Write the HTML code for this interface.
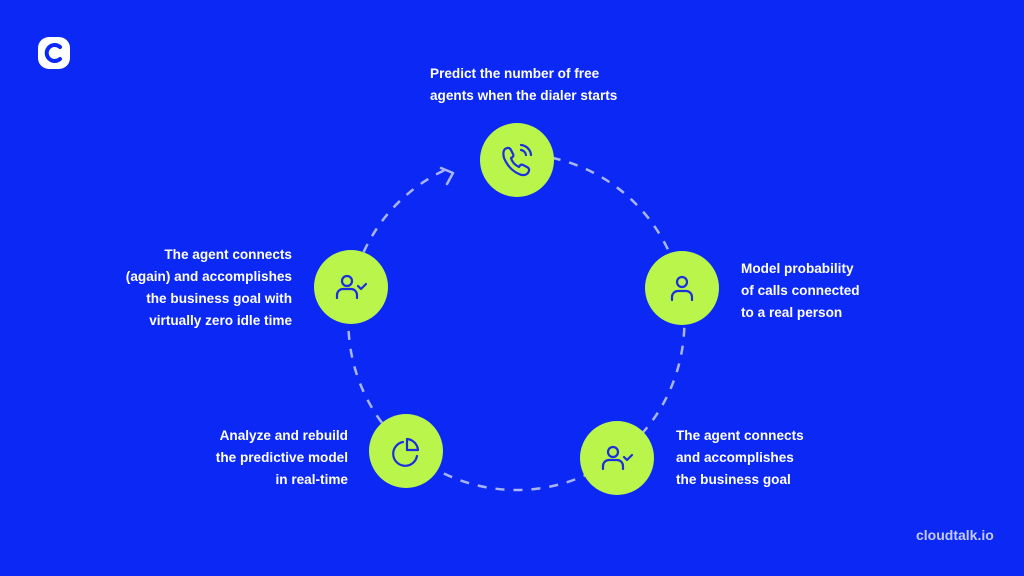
<!DOCTYPE html>
<html><head><meta charset="utf-8"><style>
body{margin:0;width:1024px;height:576px;background:#0b28f4;overflow:hidden;position:relative;font-family:"Liberation Sans",sans-serif;}
.t{position:absolute;color:#fff;font-weight:bold;font-size:13.6px;line-height:22px;white-space:nowrap;}
</style></head><body>
<svg width="1024" height="576" style="position:absolute;left:0;top:0">
<path d="M516,154 A168,168 0 1 1 447,169" fill="none" stroke="#a9b4f5" stroke-width="2.5" stroke-dasharray="9,9"/>
<polyline points="441,168 453,173 447,184" fill="none" stroke="#a9b4f5" stroke-width="2.5" stroke-linecap="round" stroke-linejoin="round"/>
<g fill="#b9f54b">
<circle cx="517" cy="160" r="37"/>
<circle cx="682" cy="288" r="37"/>
<circle cx="617" cy="458" r="37"/>
<circle cx="406" cy="451" r="37"/>
<circle cx="351" cy="287" r="37"/>
</g>
<g fill="none" stroke="#1a2fe0" stroke-width="2.2" stroke-linecap="round" stroke-linejoin="round">
<path d="M505,149 c3,-2 5,-1 6,1 l2,4 c1,2 0,3 -2,4 c1,4 4,7 8,9 c1,-2 2,-3 4,-2 l4,2 c2,1 3,3 1,6 c-2,2 -5,3 -9,1 c-7,-3 -12,-9 -15,-16 c-1,-4 -1,-7 1,-9z"/>
<path d="M521,150 a6,6 0 0 1 5,5"/><path d="M521,145 a11,11 0 0 1 10,10"/>
<circle cx="682" cy="282" r="5"/><path d="M672,300 v-3 a6,6 0 0 1 6,-6 h8 a6,6 0 0 1 6,6 v3"/>
<circle cx="613" cy="452" r="5"/><path d="M603,469 v-3 a6,6 0 0 1 6,-6 h8 a6,6 0 0 1 6,6 v3"/><path d="M624,457 l3,3 l5,-5"/>
<circle cx="347" cy="281" r="5"/><path d="M337,298 v-3 a6,6 0 0 1 6,-6 h8 a6,6 0 0 1 6,6 v3"/><path d="M358,286 l3,3 l5,-5"/>
<path d="M403,442 a12,12 0 1 0 14,14"/><path d="M407,439 a12,12 0 0 1 11,11 h-11z"/>
</g>
<rect x="38" y="37" width="32" height="32" rx="11" fill="#fff"/>
<path d="M60,47 a8,8 0 1 0 0,12" fill="none" stroke="#0b28f4" stroke-width="4" stroke-linecap="round"/>
</svg>
<div class="t" style="left:430px;top:63px">Predict the number of free<br>agents when the dialer starts</div>
<div class="t" style="left:741px;top:258px">Model probability<br>of calls connected<br>to a real person</div>
<div class="t" style="left:676px;top:425px">The agent connects<br>and accomplishes<br>the business goal</div>
<div class="t" style="left:190px;top:425px;text-align:right;width:158px">Analyze and rebuild<br>the predictive model<br>in real-time</div>
<div class="t" style="left:102px;top:244px;text-align:right;width:190px">The agent connects<br>(again) and accomplishes<br>the business goal with<br>virtually zero idle time</div>
<div class="t" style="left:916px;top:524px;color:#c4cbfa;font-size:14px">cloudtalk.io</div>
</body></html>
